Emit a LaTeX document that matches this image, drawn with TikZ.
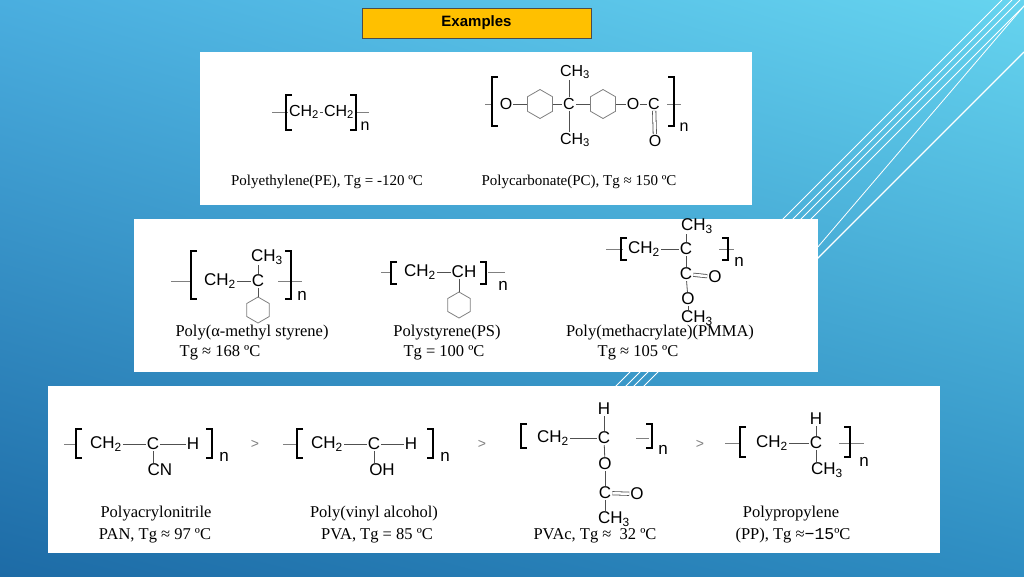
\documentclass[tikz,border=0pt]{standalone}
\usepackage{fontspec}
\setmainfont{Liberation Serif}
\setsansfont{Liberation Sans}
\usetikzlibrary{shapes.geometric,shadings}

\definecolor{bgTL}{HTML}{4AAEDF}
\definecolor{bgTR}{HTML}{66D4EF}
\definecolor{bgBL}{HTML}{1D6BA6}
\definecolor{bgBR}{HTML}{2E8DC2}
\definecolor{titleyellow}{HTML}{FFC000}
\definecolor{bondgray}{HTML}{505050}

\tikzset{
    chem/.style={inner sep=1pt, font=\sffamily\fontsize{17}{17}\selectfont},
    chemA/.style={inner sep=1pt, font=\sffamily\fontsize{16}{16}\selectfont},
    lbl/.style={inner sep=0pt, font=\fontsize{16.5}{16.5}\selectfont},
    lblA/.style={inner sep=0pt, font=\fontsize{15}{15}\selectfont},
    bond/.style={draw=bondgray, line width=0.8pt},
    tail/.style={draw=gray, line width=0.9pt},
    brk/.style={draw=black, line width=2pt},
    ring/.style={regular polygon, regular polygon sides=6, shape border rotate=30,
        draw=gray, line width=0.8pt, inner sep=0pt},
    gt/.style={inner sep=0pt, text=gray, font=\sffamily\fontsize{14}{14}\selectfont},
}

\begin{document}
\begin{tikzpicture}[x=1pt, y=-1pt]

    \useasboundingbox (0,0) rectangle (1024,576);
    \shade[upper left=bgTL, upper right=bgTR, lower left=bgBL, lower right=bgBR]
        (0,0) rectangle (1024,576);

    % decorative lines
    \foreach \c in {1002,1012,1020,1030} {
        \draw[white, line width=0.8pt] (\c,0) -- ({\c-390},390);
    }
    \draw[white, line width=1.2pt] (1024,52) -- (790,286);
    \draw[white, line width=0.8pt] (1024,6) -- (805,262);

    % title
    \node[draw=black!70, fill=titleyellow, minimum width=229pt, minimum height=30pt,
        font=\sffamily\bfseries\fontsize{15}{15}\selectfont] (title) at (476.5,23) {Examples};

    % panels
    \fill[white] (200,52) rectangle (752,205);
    \fill[white] (134,219) rectangle (818,372);
    \fill[white] (48,386) rectangle (940,553);

    % ---- polyethylene
    \draw[tail] (272,112) -- (369,112);
    \node[chemA, fill=white] (pe1) at (304,112) {CH\textsubscript{2}};
    \node[chemA, fill=white] (pe2) at (339,112) {CH\textsubscript{2}};
    \draw[bond] (pe1) -- (pe2);
    \draw[brk] (292,95) -- (286,95) -- (286,130) -- (292,130);
    \draw[brk] (350,95) -- (356,95) -- (356,130) -- (350,130);
    \node[chemA] (pen) at (365,126) {n};
    \node[lblA] (pelbl) at (327,182) {Polyethylene(PE), Tg = -120 ºC};

    % ---- polycarbonate
    \draw[tail] (485,104) -- (492,104);
    \draw[tail] (667,104) -- (681,104);
    \draw[brk] (498,77) -- (492,77) -- (492,126) -- (498,126);
    \draw[brk] (668,77) -- (674,77) -- (674,126) -- (668,126);
    \node[chemA] (pcO1) at (506,104) {O};
    \node[ring, minimum size=29pt] (pcR1) at (540,104) {};
    \node[chemA] (pcC) at (569,104) {C};
    \node[chemA] (pcMe1) at (575,72) {CH\textsubscript{3}};
    \node[chemA] (pcMe2) at (575,140) {CH\textsubscript{3}};
    \node[ring, minimum size=29pt] (pcR2) at (603,104) {};
    \node[chemA] (pcO2) at (633,104) {O};
    \node[chemA] (pcC2) at (654,104) {C};
    \node[chemA] (pcO3) at (655,141) {O};
    \node[chemA] (pcn) at (684,127) {n};
    \draw[bond] (pcO1) -- (pcR1.west);
    \draw[bond] (pcR1.east) -- (pcC);
    \draw[bond] (pcC) -- (pcR2.west);
    \draw[bond] (pcR2.east) -- (pcO2);
    \draw[bond] (pcO2) -- (pcC2);
    \draw[bond] (pcC) -- (pcC|-pcMe1.south);
    \draw[bond] (pcC) -- (pcC|-pcMe2.north);
    \draw[bond, double, double distance=2.5pt] (pcC2) -- (pcO3);
    \node[lblA] (pclbl) at (579,182) {Polycarbonate(PC), Tg ≈ 150 ºC};

    % ---- poly(alpha-methyl styrene)
    \draw[tail] (171,281) -- (191,281);
    \draw[tail] (278,281) -- (302,281);
    \draw[brk] (197,251) -- (191,251) -- (191,299) -- (197,299);
    \draw[brk] (285,251) -- (291,251) -- (291,299) -- (285,299);
    \node[chem] (amCH2) at (220,281) {CH\textsubscript{2}};
    \node[chem] (amC) at (258,281) {C};
    \node[chem] (amMe) at (267,257) {CH\textsubscript{3}};
    \node[ring, minimum size=26pt] (amR) at (258,310) {};
    \node[chem] (amn) at (302,296) {n};
    \draw[bond] (amCH2) -- (amC);
    \draw[bond] (amC) -- (amC|-amMe.south);
    \draw[bond] (amC) -- (amR.north);
    \node[lbl] (amlbl) at (252,333) {Poly(α-methyl styrene)};
    \node[lbl] (amtg) at (220,353) {Tg ≈ 168 ºC};

    % ---- polystyrene
    \draw[tail] (381,272) -- (392,272);
    \draw[tail] (488,272) -- (505,272);
    \draw[brk] (397,262) -- (391,262) -- (391,284) -- (397,284);
    \draw[brk] (480,262) -- (486,262) -- (486,284) -- (480,284);
    \node[chem] (psCH2) at (420,272) {CH\textsubscript{2}};
    \node[chem] (psCH) at (464,272) {CH};
    \node[ring, minimum size=26pt] (psR) at (459,305) {};
    \node[chem] (psn) at (503,286) {n};
    \draw[bond] (psCH2) -- (psCH);
    \draw[bond] (psR.north|-psCH.south) -- (psR.north);
    \node[lbl] (pslbl) at (447,333) {Polystyrene(PS)};
    \node[lbl] (pstg) at (444,353) {Tg = 100 ºC};

    % ---- PMMA
    \draw[tail] (606,249) -- (623,249);
    \draw[tail] (719,249) -- (734,249);
    \draw[brk] (627,238) -- (621,238) -- (621,260) -- (627,260);
    \draw[brk] (722,238) -- (728,238) -- (728,260) -- (722,260);
    \node[chem] (pmCH2) at (644,249) {CH\textsubscript{2}};
    \node[chem] (pmC) at (686,249) {C};
    \node[chem] (pmMe) at (697,226) {CH\textsubscript{3}};
    \node[chem] (pmC2) at (686,274) {C};
    \node[chem] (pmO1) at (715,277) {O};
    \node[chem] (pmO2) at (688,299) {O};
    \node[chem] (pmMe2) at (697,318) {CH\textsubscript{3}};
    \node[chem] (pmn) at (739,262) {n};
    \draw[bond] (pmCH2) -- (pmC);
    \draw[bond] (pmC) -- (pmC|-pmMe.south);
    \draw[bond] (pmC) -- (pmC2);
    \draw[bond, double, double distance=2.5pt] (pmC2) -- (pmO1);
    \draw[bond] (pmC2) -- (pmO2);
    \draw[bond] (pmO2) -- (pmO2|-pmMe2.north);
    \node[lbl] (pmlbl) at (660,333) {Poly(methacrylate)(PMMA)};
    \node[lbl] (pmtg) at (638,353) {Tg ≈ 105 ºC};

    % ---- PAN
    \draw[tail] (64,444) -- (76,444);
    \draw[brk] (82,429) -- (76,429) -- (76,458) -- (82,458);
    \draw[brk] (206,429) -- (212,429) -- (212,458) -- (206,458);
    \node[chem] (anCH2) at (106,444) {CH\textsubscript{2}};
    \node[chem] (anC) at (153,444) {C};
    \node[chem] (anH) at (193,444) {H};
    \node[chem] (anCN) at (160,470) {CN};
    \node[chem] (ann) at (224,457) {n};
    \draw[bond] (anCH2) -- (anC);
    \draw[bond] (anC) -- (anH);
    \draw[bond] (anC) -- (anC|-anCN.north);
    \node[lbl] (anlbl) at (156,514) {Polyacrylonitrile};
    \node[lbl] (antg) at (155,536) {PAN, Tg ≈ 97 ºC};
    \node[gt] (gt1) at (255,444) {>};

    % ---- PVA
    \draw[tail] (283,444) -- (297,444);
    \draw[brk] (303,429) -- (297,429) -- (297,458) -- (303,458);
    \draw[brk] (427,429) -- (433,429) -- (433,458) -- (427,458);
    \node[chem] (vaCH2) at (327,444) {CH\textsubscript{2}};
    \node[chem] (vaC) at (374,444) {C};
    \node[chem] (vaH) at (411,444) {H};
    \node[chem] (vaOH) at (382,470) {OH};
    \node[chem] (van) at (445,457) {n};
    \draw[bond] (vaCH2) -- (vaC);
    \draw[bond] (vaC) -- (vaH);
    \draw[bond] (vaC) -- (vaC|-vaOH.north);
    \node[lbl] (valbl) at (374,514) {Poly(vinyl alcohol)};
    \node[lbl] (vatg) at (377,536) {PVA, Tg = 85 ºC};
    \node[gt] (gt2) at (482,444) {>};

    % ---- PVAc
    \draw[tail] (636,438) -- (649,438);
    \draw[brk] (527,424) -- (521,424) -- (521,448) -- (527,448);
    \draw[brk] (646,424) -- (652,424) -- (652,448) -- (646,448);
    \node[chem] (vcCH2) at (553,438) {CH\textsubscript{2}};
    \node[chem] (vcC) at (604,438) {C};
    \node[chem] (vcH) at (604,409) {H};
    \node[chem] (vcO1) at (605,464) {O};
    \node[chem] (vcC2) at (605,493) {C};
    \node[chem] (vcO2) at (637,494) {O};
    \node[chem] (vcMe) at (614,519) {CH\textsubscript{3}};
    \node[chem] (vcn) at (663,450) {n};
    \draw[bond] (vcCH2) -- (vcC);
    \draw[bond] (vcC) -- (vcH);
    \draw[bond] (vcC) -- (vcO1);
    \draw[bond] (vcO1) -- (vcC2);
    \draw[bond, double, double distance=2.5pt] (vcC2) -- (vcO2);
    \draw[bond] (vcC2) -- (vcC2|-vcMe.north);
    \node[lbl] (vctg) at (595,536) {PVAc, Tg ≈ \ 32 ºC};
    \node[gt] (gt3) at (700,444) {>};

    % ---- polypropylene
    \draw[tail] (725,443) -- (740,443);
    \draw[tail] (839,443) -- (864,443);
    \draw[brk] (746,427) -- (740,427) -- (740,457) -- (746,457);
    \draw[brk] (844,427) -- (850,427) -- (850,457) -- (844,457);
    \node[chem] (ppCH2) at (772,443) {CH\textsubscript{2}};
    \node[chem] (ppC) at (816,443) {C};
    \node[chem] (ppH) at (816,419) {H};
    \node[chem] (ppMe) at (827,470) {CH\textsubscript{3}};
    \node[chem] (ppn) at (864,462) {n};
    \draw[bond] (ppCH2) -- (ppC);
    \draw[bond] (ppC) -- (ppH);
    \draw[bond] (ppC) -- (ppC|-ppMe.north);
    \node[lbl] (pplbl) at (791,514) {Polypropylene};
    \node[lbl] (pptg) at (793,536) {(PP), Tg ≈{\fontspec{Liberation Mono}−15}ºC};

\end{tikzpicture}
\end{document}
